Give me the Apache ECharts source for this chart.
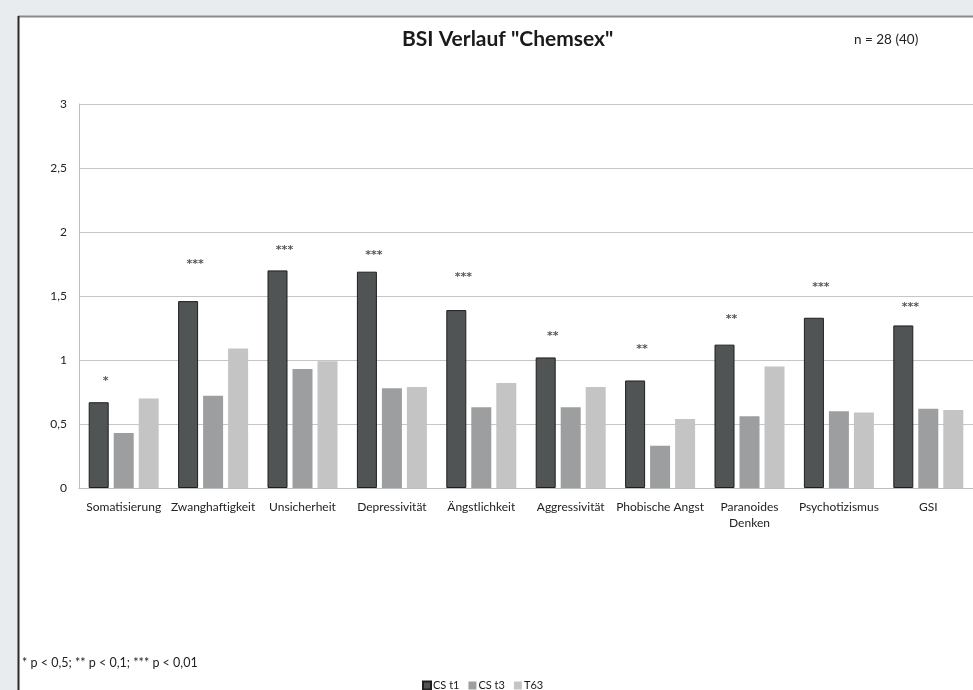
<!DOCTYPE html>
<html>
<head>
<meta charset="utf-8">
<script src="https://cdn.jsdelivr.net/npm/echarts@6/dist/echarts.min.js"></script>
<style>
  html, body { margin: 0; padding: 0; background: #e9ecef; }
  #chart { width: 973px; height: 690px; }
</style>
</head>
<body>
<div id="chart"></div>
<script>
// BSI scale means per measurement point
const categories = ['Somatisierung', 'Zwanghaftigkeit', 'Unsicherheit', 'Depressivität', 'Ängstlichkeit',
  'Aggressivität', 'Phobische Angst', 'Paranoides\nDenken', 'Psychotizismus', 'GSI'];
const csT1 = [0.67, 1.46, 1.70, 1.69, 1.39, 1.02, 0.84, 1.12, 1.33, 1.27];
const csT3 = [0.43, 0.72, 0.93, 0.78, 0.63, 0.63, 0.33, 0.56, 0.60, 0.62];
const t63  = [0.70, 1.09, 0.99, 0.79, 0.82, 0.79, 0.54, 0.95, 0.59, 0.61];

// significance markers and the level (scale units) where each one is written
const sigStars = ['*', '***', '***', '***', '***', '**', '**', '**', '***', '***'];
const sigLevel = [0.86, 1.77, 1.88, 1.84, 1.67, 1.21, 1.11, 1.34, 1.59, 1.44];

const yTicks = { min: 0, max: 3, step: 0.5 };
const FONT = 'Lato, "Open Sans", sans-serif';

const chart = echarts.init(document.getElementById('chart'), null, { renderer: 'canvas' });

chart.setOption({
  backgroundColor: '#e9ecef',
  animation: false,
  graphic: [
    // white panel with its frame
    { type: 'rect', z: -10, shape: { x: 18, y: 16, width: 960, height: 680 },
      style: { fill: '#ffffff' } },
    { type: 'line', z: -9, shape: { x1: 18, y1: 16.5, x2: 973, y2: 16.5 },
      style: { stroke: '#8a8a8a', lineWidth: 2 } },
    { type: 'line', z: -9, shape: { x1: 18.5, y1: 16, x2: 18.5, y2: 690 },
      style: { stroke: '#2a2a2a', lineWidth: 2 } },
    { type: 'text', left: 854, top: 33,
      style: { text: 'n = 28 (40)', font: '13.5px ' + FONT, fill: '#222' } },
    { type: 'text', left: 22, top: 656,
      style: { text: '* p < 0,5; ** p < 0,1; *** p < 0,01', font: '12.5px ' + FONT, fill: '#222' } }
  ],
  title: {
    text: 'BSI Verlauf "Chemsex"',
    left: 397, top: 24,
    textStyle: { fontFamily: FONT, fontSize: 21, fontWeight: 'bold', color: '#1a1a1a' }
  },
  legend: {
    data: ['CS t1', 'CS t3', 'T63'],
    left: 417, top: 675,
    icon: 'rect', itemWidth: 8, itemHeight: 8, itemGap: 9,
    textStyle: { fontFamily: FONT, fontSize: 11, color: '#1a1a1a', padding: [0, 0, 0, -3] }
  },
  grid: { left: 79, right: -1, top: 104, bottom: 202, containLabel: false },
  xAxis: {
    type: 'category',
    data: categories,
    axisTick: { show: false },
    axisLine: { lineStyle: { color: '#bdbdbd', width: 1 } },
    axisLabel: { fontFamily: FONT, fontSize: 12, color: '#222', margin: 11, lineHeight: 16, interval: 0 }
  },
  yAxis: {
    type: 'value',
    min: yTicks.min, max: yTicks.max, interval: yTicks.step,
    axisLine: { show: true, lineStyle: { color: '#bdbdbd' } },
    axisTick: { show: false },
    splitLine: { lineStyle: { color: '#c6c6c6', width: 1 } },
    axisLabel: {
      fontFamily: FONT, fontSize: 12, color: '#222', margin: 12,
      formatter: v => String(v).replace('.', ',')
    }
  },
  series: [
    { name: 'CS t1', type: 'bar', data: csT1, barWidth: 20, barGap: '25%',
      itemStyle: { color: '#505455', borderColor: '#1e1e1e', borderWidth: 1 } },
    { name: 'CS t3', type: 'bar', data: csT3, barWidth: 20, barGap: '25%',
      itemStyle: { color: '#9c9e9f' } },
    { name: 'T63', type: 'bar', data: t63, barWidth: 20, barGap: '25%',
      itemStyle: { color: '#c4c4c4' } },
    { name: 'sig', type: 'scatter', data: sigLevel, symbolSize: 1,
      itemStyle: { color: 'rgba(0,0,0,0)' }, silent: true, z: 5,
      label: {
        show: true, position: 'inside', offset: [-18, 3],
        formatter: p => sigStars[p.dataIndex],
        fontFamily: '"DejaVu Sans", sans-serif', fontSize: 11, fontWeight: 'bold', color: '#2a2a2a'
      } }
  ]
});
</script>
</body>
</html>
